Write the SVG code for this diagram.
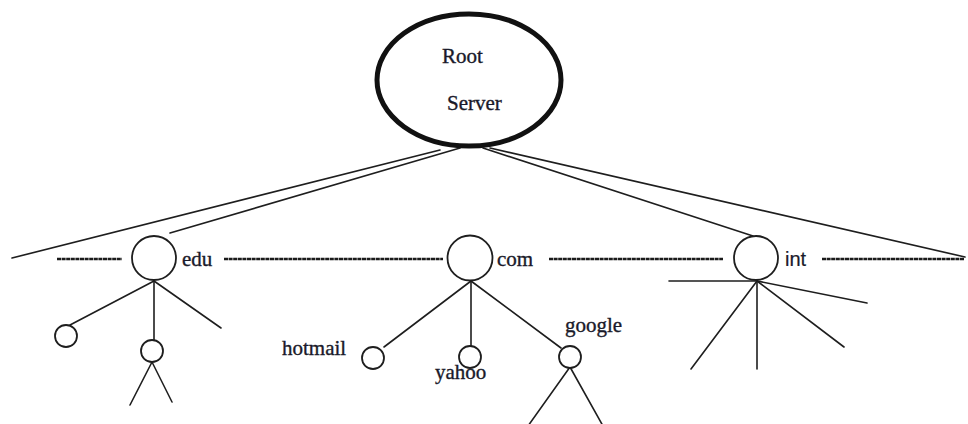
<svg xmlns="http://www.w3.org/2000/svg" width="968" height="424" viewBox="0 0 968 424">
<style>
.ln{stroke:#1e1e1e;stroke-width:1.6;fill:none;stroke-linecap:round}
.dash{stroke:#1a1a1a;stroke-width:2.4;fill:none;stroke-dasharray:4 0.6}
.nd{stroke:#1e1e1e;stroke-width:1.8;fill:#fff}
.t{font-family:"Liberation Serif",serif;font-size:21px;fill:#1a1a2a;stroke:#1a1a2a;stroke-width:0.35}
.s{font-family:"Liberation Sans",sans-serif;font-size:20px;fill:#1a1a2a;stroke:#1a1a2a;stroke-width:0.2}
</style>
<rect width="968" height="424" fill="#fff"/>
<g id="connectors">
<line class="ln" x1="440" y1="150" x2="12" y2="258"/>
<line class="ln" x1="460" y1="148" x2="170" y2="233"/>
<line class="ln" x1="483" y1="148" x2="753" y2="236"/>
<line class="ln" x1="490" y1="148" x2="965" y2="257"/>
<line class="dash" x1="57" y1="259" x2="122" y2="259"/>
<line class="dash" x1="224" y1="259" x2="443" y2="259"/>
<line class="dash" x1="549" y1="259" x2="723" y2="259"/>
<line class="dash" x1="822" y1="259" x2="964" y2="259"/>
<line class="ln" x1="154" y1="281" x2="70" y2="325"/>
<line class="ln" x1="154" y1="281" x2="154" y2="340"/>
<line class="ln" x1="154" y1="281" x2="221" y2="328"/>
<line class="ln" x1="152" y1="362" x2="130" y2="405"/>
<line class="ln" x1="152" y1="362" x2="172" y2="402"/>
<line class="ln" x1="471" y1="281" x2="384" y2="347"/>
<line class="ln" x1="471" y1="281" x2="471" y2="346"/>
<line class="ln" x1="471" y1="281" x2="561" y2="348"/>
<line class="ln" x1="570" y1="367" x2="528" y2="426"/>
<line class="ln" x1="570" y1="367" x2="603" y2="426"/>
<line class="ln" x1="669" y1="281" x2="757" y2="281"/>
<line class="ln" x1="757" y1="281" x2="867" y2="303"/>
<line class="ln" x1="757" y1="281" x2="844" y2="347"/>
<line class="ln" x1="757" y1="281" x2="757" y2="369"/>
<line class="ln" x1="757" y1="281" x2="691" y2="369"/>
</g>
<g id="root">
<ellipse cx="469" cy="80" rx="92" ry="66" fill="#fff" stroke="#111" stroke-width="5"/>
<text class="t" x="442" y="63">Root</text>
<text class="t" x="447" y="110">Server</text>
</g>
<g id="edu">
<circle class="nd" cx="154" cy="258" r="22"/>
<text class="t" x="182" y="266">edu</text>
</g>
<g id="edu-child-1"><circle class="nd" cx="66" cy="336" r="11"/></g>
<g id="edu-child-2"><circle class="nd" cx="152" cy="351" r="11"/></g>
<g id="com">
<circle class="nd" cx="470" cy="258" r="22.5"/>
<text class="t" x="497" y="266">com</text>
</g>
<g id="hotmail">
<circle class="nd" cx="373" cy="358" r="11"/>
<text class="t" x="282" y="355">hotmail</text>
</g>
<g id="yahoo">
<circle class="nd" cx="470" cy="357" r="11"/>
<text class="t" x="435" y="379">yahoo</text>
</g>
<g id="google">
<circle class="nd" cx="570" cy="357" r="11"/>
<text class="t" x="565" y="332">google</text>
</g>
<g id="int">
<circle class="nd" cx="756" cy="258" r="22"/>
<text class="s" x="785" y="266">int</text>
</g>
</svg>
